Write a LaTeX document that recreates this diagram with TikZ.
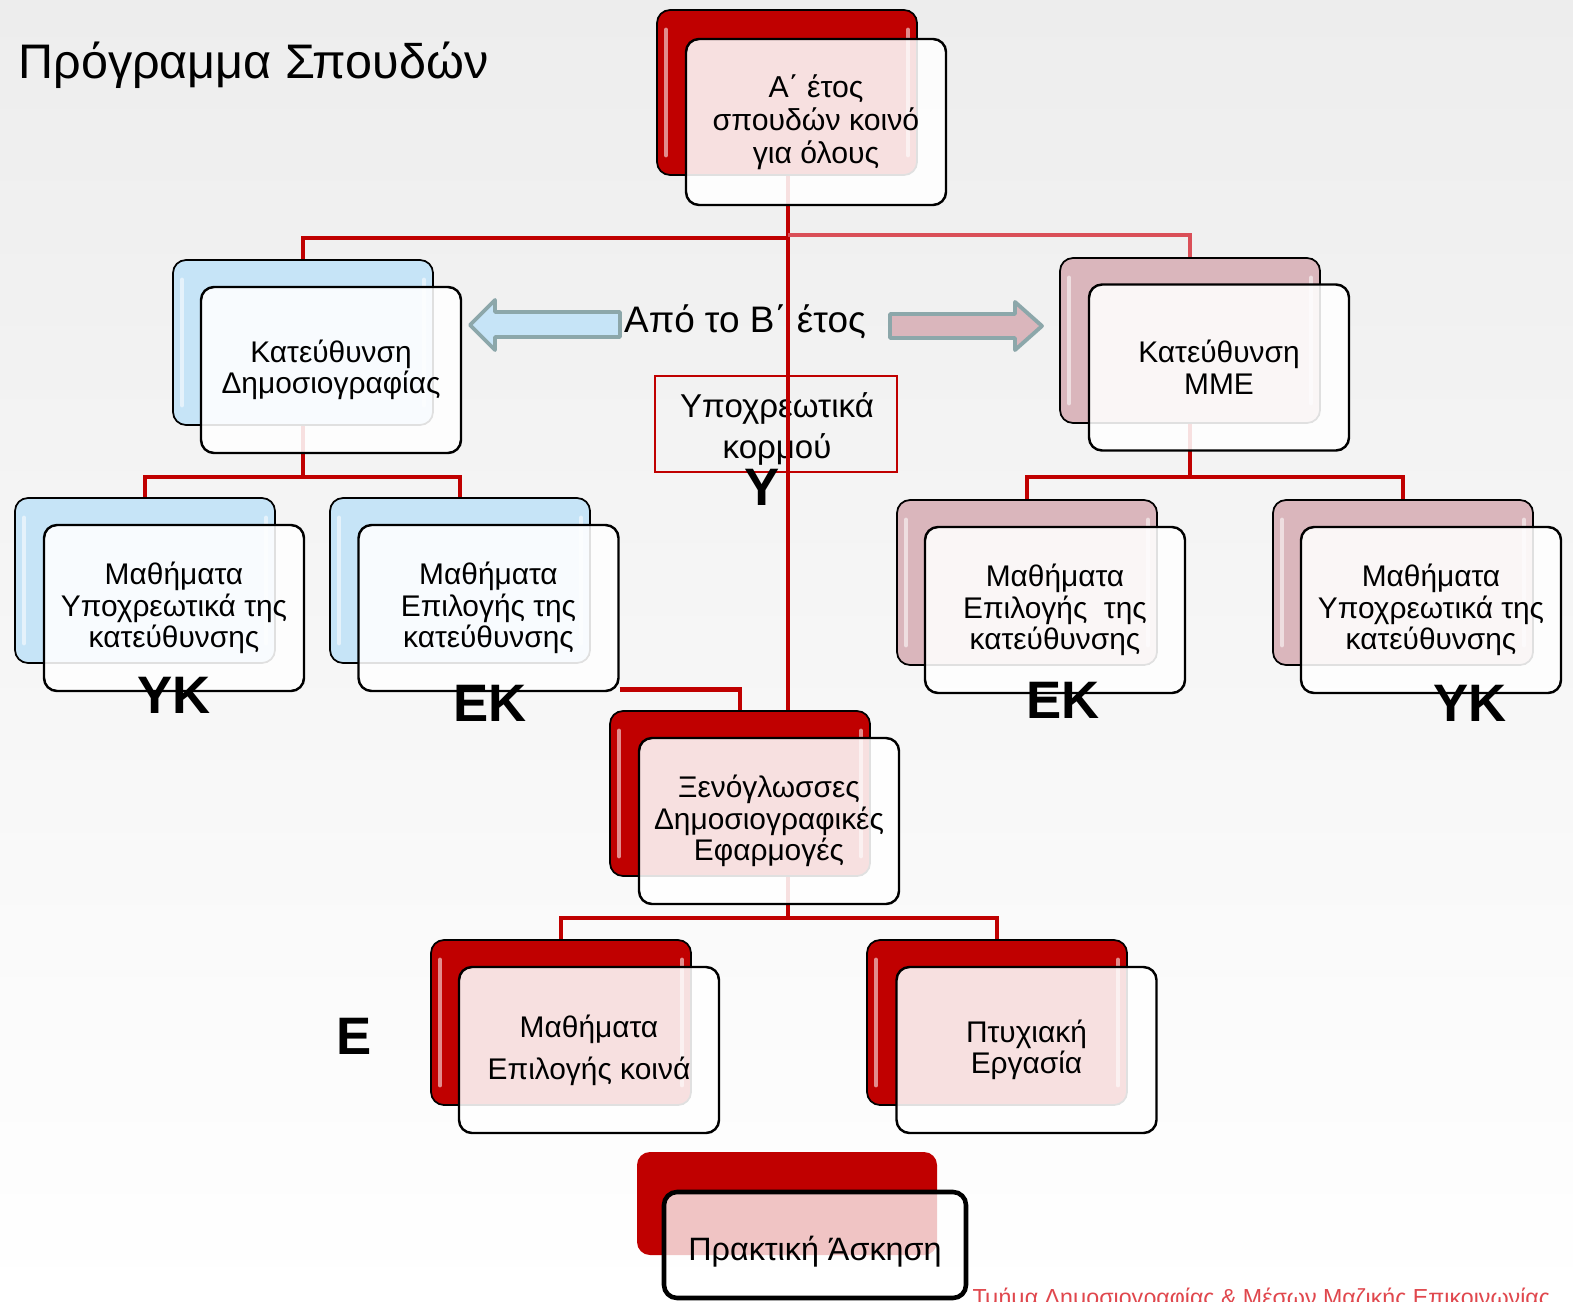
\documentclass[tikz,border=0pt]{standalone}
\usepackage{fontspec}
\setmainfont{Liberation Sans}
\usetikzlibrary{calc}

\definecolor{deepred}{HTML}{C00000}
\definecolor{paleblue}{HTML}{C6E4F7}
\definecolor{mauve}{HTML}{DAB6BC}
\definecolor{arrowedge}{HTML}{8CA7AA}
\definecolor{footred}{HTML}{E0474D}
\definecolor{lightline}{HTML}{DA4F58}
\definecolor{canvas}{HTML}{EDEDED}

\newcommand{\cellfont}{\fontsize{8.5}{9.0}\selectfont}
\newcommand{\tagfont}{\fontsize{15}{16}\selectfont\bfseries}

\pgfdeclarelayer{back}
\pgfdeclarelayer{edges}
\pgfsetlayers{back,edges,main}

\begin{document}
\begin{tikzpicture}[
  backbox/.style={rectangle, rounded corners=0.13cm, draw=black, line width=0.5pt,
    fill=#1, minimum width=2.6cm, minimum height=1.65cm,
    path picture={
      \draw[white, opacity=0.55, line width=1.4pt, line cap=round]
        ([xshift=0.09cm,yshift=-0.2cm]path picture bounding box.north west) --
        ([xshift=0.09cm,yshift=0.2cm]path picture bounding box.south west)
        ([xshift=-0.09cm,yshift=-0.2cm]path picture bounding box.north east) --
        ([xshift=-0.09cm,yshift=0.2cm]path picture bounding box.south east);
    }},
  frontbox/.style={rectangle, rounded corners=0.13cm, draw=black, line width=0.7pt,
    fill=white, fill opacity=0.88, text opacity=1, minimum width=2.6cm,
    minimum height=1.66cm, align=center, font=\cellfont},
  tag/.style={font=\tagfont, inner sep=0pt},
  conn/.style={draw=deepred, line width=1.3pt},
  connlight/.style={draw=lightline, line width=1.3pt},
  blockarrow/.style={draw=arrowedge, line width=1.1pt, line join=round}]

\useasboundingbox (0,0) rectangle (15.73,-13.02);
\clip (0,0) rectangle (15.73,-13.02);

% Canvas and loose texts
\begin{pgfonlayer}{back}
\shade[top color=canvas, bottom color=white] (0,0) rectangle (15.73,-13.02);
\node[anchor=west, font=\fontsize{13.8}{16}\selectfont] (title) at (0.06,-0.65) {Πρόγραμμα Σπουδών};
\node[font=\fontsize{10.5}{12}\selectfont] (fromb) at (7.45,-3.22) {Από το Β΄ έτος};
\node[draw=deepred, line width=0.5pt, minimum width=2.42cm, minimum height=0.96cm,
  align=center, font=\fontsize{9.4}{11.4}\selectfont] (core) at (7.76,-4.24) {};
\node[align=center, font=\fontsize{9.4}{11.4}\selectfont] (coretext) at (7.77,-4.29) {Υποχρεωτικά\\κορμού};
\draw[blockarrow, fill=paleblue] (4.70,-3.25) -- (4.95,-3.00) -- (4.95,-3.12) -- (6.20,-3.12)
  -- (6.20,-3.37) -- (4.95,-3.37) -- (4.95,-3.50) -- cycle;
\draw[blockarrow, fill=mauve] (8.90,-3.14) -- (10.15,-3.14) -- (10.15,-3.02) -- (10.42,-3.26)
  -- (10.15,-3.50) -- (10.15,-3.38) -- (8.90,-3.38) -- cycle;
\end{pgfonlayer}

% Boxes
\node[backbox=deepred] (ayear0) at (7.87,-0.925) {};
\node[frontbox, font=\fontsize{8.6}{9.4}\selectfont] (ayear) at (8.16,-1.22) {Α΄ έτος\\σπουδών κοινό\\για όλους};

\node[backbox=paleblue] (journ0) at (3.03,-3.425) {};
\node[frontbox] (journ) at (3.31,-3.70) {Κατεύθυνση\\Δημοσιογραφίας};

\node[backbox=mauve] (media0) at (11.90,-3.405) {};
\node[frontbox] (media) at (12.19,-3.675) {Κατεύθυνση\\ΜΜΕ};

\node[backbox=paleblue] (jyk0) at (1.45,-5.805) {};
\node[frontbox] (jyk) at (1.74,-6.08) {Μαθήματα\\Υποχρεωτικά της\\κατεύθυνσης};

\node[backbox=paleblue] (jek0) at (4.60,-5.805) {};
\node[frontbox] (jek) at (4.885,-6.08) {Μαθήματα\\Επιλογής της\\κατεύθυνσης};

\node[backbox=mauve] (mek0) at (10.27,-5.825) {};
\node[frontbox] (mek) at (10.55,-6.10) {Μαθήματα\\Επιλογής~ της\\κατεύθυνσης};

\node[backbox=mauve] (myk0) at (14.03,-5.825) {};
\node[frontbox] (myk) at (14.31,-6.10) {Μαθήματα\\Υποχρεωτικά της\\κατεύθυνσης};

\node[backbox=deepred] (lang0) at (7.40,-7.935) {};
\node[frontbox] (lang) at (7.69,-8.21) {Ξενόγλωσσες\\Δημοσιογραφικές\\Εφαρμογές};

\node[backbox=deepred] (elect0) at (5.61,-10.225) {};
\node[frontbox] (elect) at (5.89,-10.50) {Μαθήματα\\[3pt]Επιλογής κοινά};

\node[backbox=deepred] (thesis0) at (9.97,-10.225) {};
\node[frontbox] (thesis) at (10.265,-10.50) {Πτυχιακή\\Εργασία};

\node[rectangle, rounded corners=0.13cm, fill=deepred, minimum width=3.0cm,
  minimum height=1.03cm] (intern0) at (7.87,-12.035) {};
\node[frontbox, line width=1.3pt, fill opacity=0.77, minimum width=3.02cm,
  minimum height=1.06cm, font=\fontsize{9.2}{10}\selectfont, text height=11pt]
  (intern) at (8.15,-12.45) {Πρακτική Άσκηση};

% Edges
\begin{pgfonlayer}{edges}
\coordinate (topfork) at (7.88,-2.38);
\coordinate (jfork) at (3.03,-4.77);
\coordinate (mfork) at (11.90,-4.77);
\coordinate (lfork) at (7.88,-9.18);
\draw[conn] (topfork |- ayear0.south) -- (lfork);
\draw[conn] (journ0.north) |- (topfork);
\draw[connlight] ([yshift=0.03cm]topfork) -| (media0.north);
\draw[conn] (journ0.south) -- (jfork);
\draw[conn] (jyk0.north) |- (jfork) -| (jek0.north);
\draw[conn] (media0.south) -- (mfork);
\draw[conn] (mek0.north) |- (mfork) -| (myk0.north);
\draw[conn] ([yshift=0.03cm]jek.south east) -| (lang0.north);
\draw[conn] (elect0.north) |- (lfork) -| (thesis0.north);
\end{pgfonlayer}

% Tags
\node[tag] (cortag) at (7.62,-4.87) {Υ};
\node[tag] (jyktag) at (1.74,-6.95) {ΥΚ};
\node[tag] (jektag) at (4.90,-7.03) {ΕΚ};
\node[tag] (mektag) at (10.63,-7.00) {ΕΚ};
\node[tag] (myktag) at (14.70,-7.03) {ΥΚ};
\node[tag] (eltag) at (3.54,-10.36) {Ε};

% Footer
\node[anchor=base west, inner sep=0pt, text=footred, font=\fontsize{6.6}{8}\selectfont]
  (dept) at (9.72,-13.05) {Τμήμα Δημοσιογραφίας \& Μέσων Μαζικής Επικοινωνίας};
\end{tikzpicture}
\end{document}
